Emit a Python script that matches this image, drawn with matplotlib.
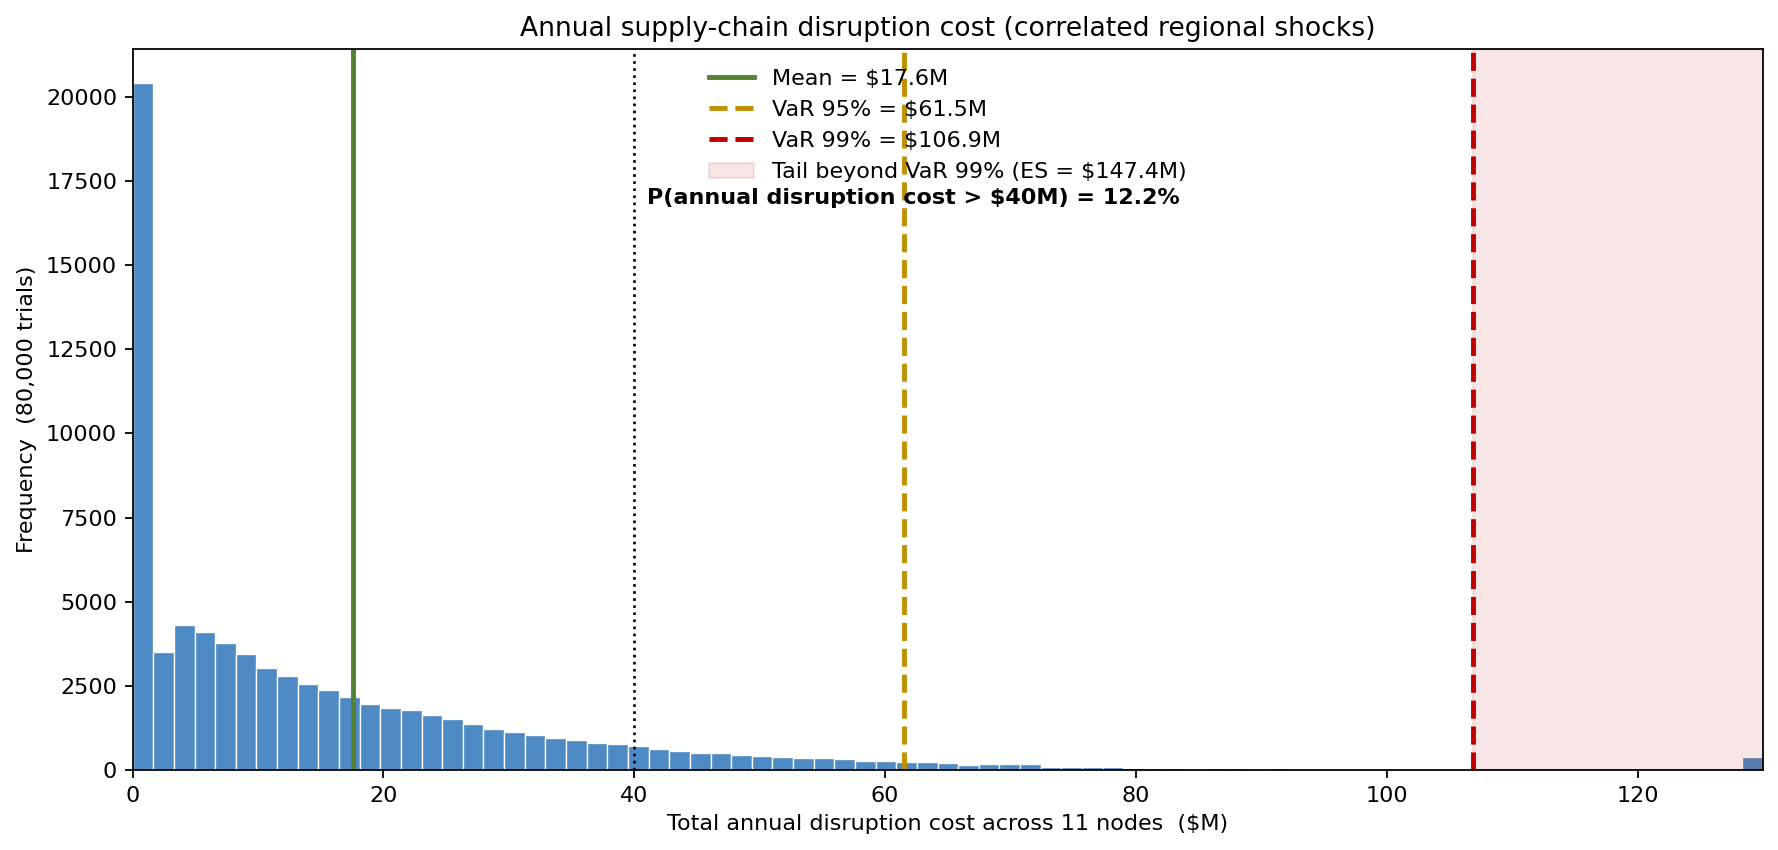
"""Annual disruption cost histogram"""
import numpy as np
from matplotlib import pyplot as plt
from matplotlib.patches import Patch
from matplotlib.lines import Line2D

# Histogram counts: 79 equal bins from 0 to 130 ($M).
bin_edges = np.linspace(0, 130, 80)
counts = [
    20400, 3520, 4295, 4087, 3759, 3432, 3045, 2807, 2560, 2381,
    2173, 1975, 1837, 1768, 1649, 1501, 1353, 1205, 1116, 1037,
    938, 879, 790, 760, 701, 612, 553, 500, 496, 437,
    407, 377, 347, 347, 317, 258, 258, 228, 228, 198,
    139, 169, 169, 169, 100, 95, 95, 90, 65, 55,
    55, 35, 60, 55, 35, 60, 40, 40, 10, 10,
    40, 10, 8, 8, 5, 0, 5, 15, 0, 0,
    0, 15, 0, 0, 0, 0, 0, 0, 395,
]

mean_cost = 17.6
var95 = 61.5
var99 = 106.9
es99 = 147.4
threshold = 40
p_exceed = 12.2
x_max = 130

DPI = 160
fig = plt.figure(figsize=(1778 / DPI, 850 / DPI), dpi=DPI)
ax = fig.add_axes([0.0746, 0.0941, 0.9170, 0.8483])

# Bars
ax.bar(bin_edges[:-1], counts, width=np.diff(bin_edges), align='edge',
       color='#4e8ac4', edgecolor='white', linewidth=0.6)

# Tail shading and reference lines
ax.axvspan(var99, x_max, color='#c00000', alpha=0.1)
ax.axvline(mean_cost, color='#548235', linewidth=2.2)
ax.axvline(var95, color='#bf9000', linewidth=2.2, linestyle='--')
ax.axvline(var99, color='#c00000', linewidth=2.2, linestyle='--')
ax.axvline(threshold, color='black', linewidth=1.2, linestyle=':')

ax.text(threshold + 1, 17000,
        f"P(annual disruption cost > ${threshold}M) = {p_exceed}%",
        fontsize=10, fontweight='bold', ha='left', va='center')

handles = [
    Line2D([], [], color='#548235', linewidth=2.2),
    Line2D([], [], color='#bf9000', linewidth=2.2, linestyle='--'),
    Line2D([], [], color='#c00000', linewidth=2.2, linestyle='--'),
    Patch(facecolor='#c00000', edgecolor='#c00000', alpha=0.1),
]
labels = [
    f"Mean = ${mean_cost}M",
    f"VaR 95% = ${var95}M",
    f"VaR 99% = ${var99}M",
    f"Tail beyond VaR 99% (ES = ${es99}M)",
]
ax.legend(handles, labels, loc='upper center', frameon=False, fontsize=10)

# Format plot.
ax.set_xlim(0, x_max)
ax.set_title("Annual supply-chain disruption cost (correlated regional shocks)",
             fontsize=12)
ax.set_xlabel("Total annual disruption cost across 11 nodes  ($M)")
ax.set_ylabel("Frequency  (80,000 trials)")

fig.savefig('out.png', dpi=DPI)
